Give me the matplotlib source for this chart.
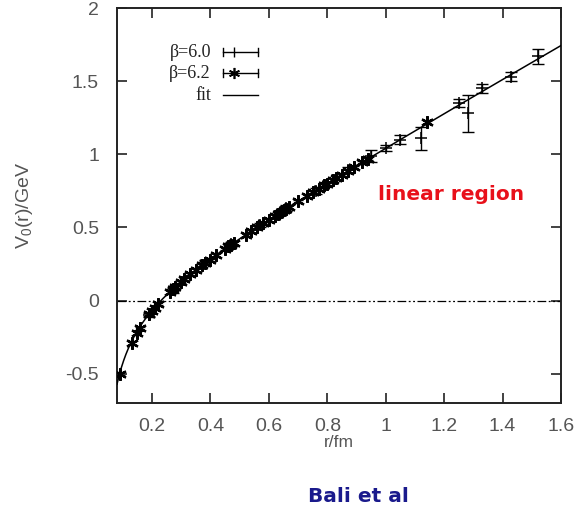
import matplotlib
matplotlib.use("Agg")
import matplotlib.pyplot as plt
import numpy as np
from matplotlib.ticker import FormatStrFormatter

# Static quark potential V0(r) from lattice data at two couplings
r_b60 = [0.19, 0.27, 0.38, 0.47, 0.57, 0.66, 0.76, 0.87, 0.95, 1.00, 1.05, 1.12, 1.25, 1.28, 1.33, 1.43, 1.52]
v_b60 = [-0.10, 0.07, 0.26, 0.385, 0.515, 0.635, 0.75, 0.89, 0.99, 1.045, 1.10, 1.11, 1.35, 1.28, 1.45, 1.53, 1.67]
e_b60 = [0.015, 0.015, 0.015, 0.015, 0.015, 0.02, 0.02, 0.02, 0.04, 0.02, 0.03, 0.08, 0.03, 0.125, 0.03, 0.03, 0.05]

r_b62 = [0.09, 0.13, 0.15, 0.16, 0.19, 0.20, 0.21, 0.22, 0.26, 0.27, 0.28, 0.30, 0.31, 0.33,
         0.35, 0.37, 0.38, 0.40, 0.42, 0.45, 0.46, 0.47, 0.48, 0.52, 0.54, 0.56, 0.58, 0.60,
         0.62, 0.63, 0.64, 0.65, 0.66, 0.67, 0.70, 0.73, 0.75, 0.77, 0.79, 0.80, 0.82, 0.83,
         0.85, 0.87, 0.89, 0.92, 0.94, 1.14]
v_b62 = [-0.50, -0.29, -0.22, -0.19, -0.09, -0.07, -0.05, -0.02, 0.06, 0.08, 0.09, 0.13, 0.145, 0.18,
         0.21, 0.24, 0.255, 0.28, 0.31, 0.355, 0.37, 0.38, 0.395, 0.45, 0.475, 0.50, 0.527, 0.552,
         0.578, 0.59, 0.603, 0.616, 0.628, 0.64, 0.678, 0.715, 0.74, 0.764, 0.789, 0.80, 0.825, 0.837,
         0.861, 0.885, 0.91, 0.945, 0.97, 1.22]
e_b62 = [0.012] * len(r_b62)

# Cornell fit V(r) = V0 - e/r + sigma*r  (GeV, fm)
fit_v0 = -0.05
fit_e = 0.049
fit_sigma = 1.14

x_ticks = [0.2, 0.4, 0.6, 0.8, 1.0, 1.2, 1.4, 1.6]
y_ticks = [-0.5, 0.0, 0.5, 1.0, 1.5, 2.0]

plt.rcParams["font.family"] = ["Liberation Sans", "DejaVu Sans"]
plt.rcParams["mathtext.fontset"] = "custom"
plt.rcParams["mathtext.rm"] = "Liberation Sans"
plt.rcParams["mathtext.it"] = "Liberation Sans"

fig = plt.figure(figsize=(5.76, 5.16), dpi=100)
ax = fig.add_axes([117 / 576, 1 - 403 / 516, 444 / 576, 395 / 516])

ax.set_xlim(0.08, 1.6)
ax.set_ylim(-0.7, 2.0)

# zero line
ax.axhline(0.0, color="black", lw=0.9, dashes=(7, 2, 1.5, 2, 1.5, 2))

# fit curve
rr = np.linspace(0.08, 1.6, 400)
ax.plot(rr, fit_v0 - fit_e / rr + fit_sigma * rr, color="black", lw=1.1, zorder=3)

ax.errorbar(r_b62, v_b62, yerr=e_b62, fmt="none", ecolor="black", elinewidth=1.0,
            capsize=3.5, capthick=1.0, zorder=4)
ax.plot(r_b62, v_b62, linestyle="none", marker=(6, 2, 0), markersize=9,
        markeredgewidth=1.6, color="black", zorder=5)

ax.errorbar(r_b60, v_b60, yerr=e_b60, fmt="none", ecolor="black", elinewidth=1.0,
            capsize=4, capthick=1.0, zorder=4)
ax.plot(r_b60, v_b60, linestyle="none", marker="+", markersize=8,
        markeredgewidth=1.1, color="black", zorder=5)

# legend drawn in axes coordinates, gnuplot style
tr = ax.transAxes
serif = ["Liberation Serif", "DejaVu Serif"]
rows = [0.8886, 0.8354, 0.7797]
labels = ["β=6.0", "β=6.2", "fit"]
x0, x1 = 0.2387, 0.3176
cap = 0.009
for yv, lab in zip(rows, labels):
    ax.text(0.2117, yv, lab, transform=tr, ha="right", va="center",
            fontsize=13, family=serif, color="#222222")
for yv in rows[:2]:
    ax.plot([x0, x1], [yv, yv], transform=tr, color="black", lw=1.0, clip_on=False)
    ax.plot([x0, x0], [yv - cap, yv + cap], transform=tr, color="black", lw=1.0, clip_on=False)
    ax.plot([x1, x1], [yv - cap, yv + cap], transform=tr, color="black", lw=1.0, clip_on=False)
ax.plot([0.2635], [rows[0]], transform=tr, marker="|", markersize=7, mew=1.0,
        color="black", clip_on=False)
ax.plot([0.2635], [rows[1]], transform=tr, marker=(6, 2, 0), markersize=8, mew=1.2,
        color="black", clip_on=False)
ax.plot([x0, x1], [rows[2], rows[2]], transform=tr, color="black", lw=1.0, clip_on=False)

# axes styling
for s in ax.spines.values():
    s.set_linewidth(1.4)
    s.set_color("#222222")
ax.set_xticks(x_ticks)
ax.set_yticks(y_ticks)
ax.xaxis.set_major_formatter(FormatStrFormatter("%g"))
ax.yaxis.set_major_formatter(FormatStrFormatter("%g"))
ax.tick_params(direction="in", length=7, width=1.2, top=True, right=True,
               labelsize=14, labelcolor="#555555", color="#222222")
ax.tick_params(axis="x", pad=11)
ax.tick_params(axis="y", pad=13)

ax.set_xlabel("r/fm", fontsize=12.5, color="#555555", labelpad=0)
ax.set_ylabel("V$_0$(r)/GeV", fontsize=14, color="#555555", labelpad=22)

ax.text(0.752, 0.527, "linear region", transform=tr, ha="center", va="center",
        fontsize=14.5, fontweight="bold", color="#e8101a", family=["DejaVu Sans"])
fig.text(358 / 576, 1 - 497 / 516, "Bali et al", ha="center", va="center",
         fontsize=14.5, fontweight="bold", color="#1a1a8c", family=["DejaVu Sans"])

fig.savefig("out.png", dpi=100)
